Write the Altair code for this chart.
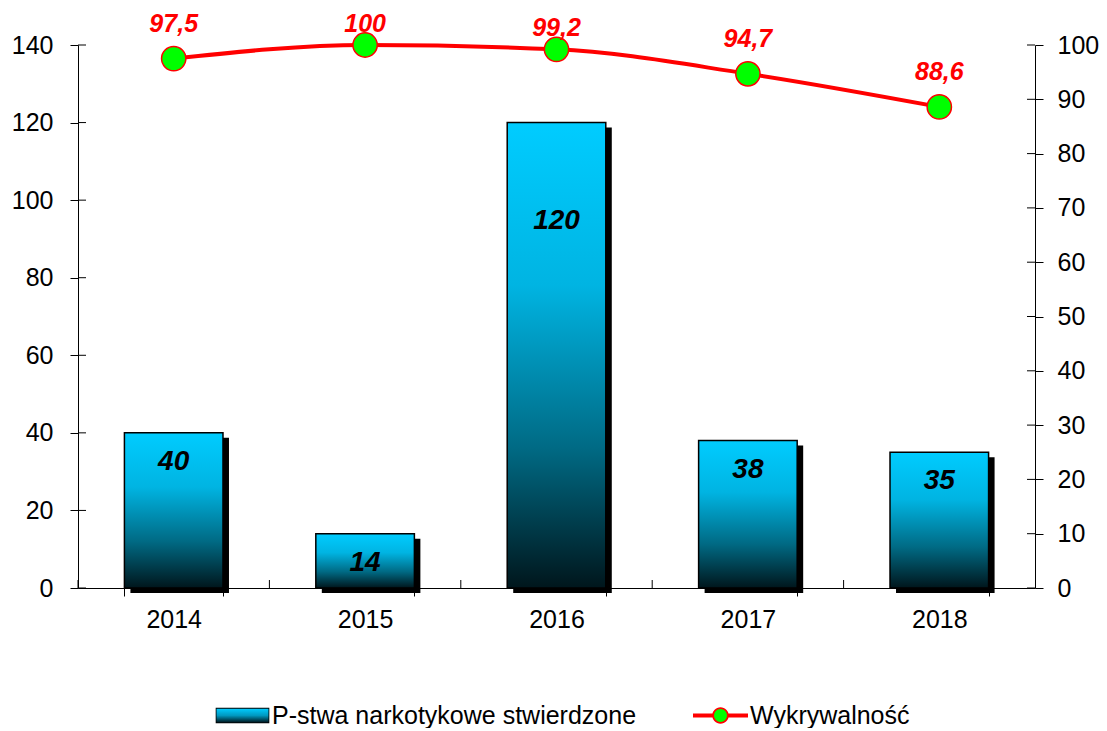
import altair as alt
import pandas as pd

# ---- data ----
years = ["2014", "2015", "2016", "2017", "2018"]
cases = [40, 14, 120, 38, 35]
detection = [97.5, 100, 99.2, 94.7, 88.6]
left_ticks = [0, 20, 40, 60, 80, 100, 120, 140]
right_ticks = [0, 10, 20, 30, 40, 50, 60, 70, 80, 90, 100]
series = ["P-stwa narkotykowe stwierdzone", "Wykrywalność"]
special_label_year = "2016"

df = pd.DataFrame({"year": years, "cases": cases, "det": detection})
df_left_ticks = pd.DataFrame({"cases": left_ticks})
df_right_ticks = pd.DataFrame({"det": right_ticks})

W, H = 957, 543
FONT = "Liberation Sans"
P_IN = 0.485
P_OUT = P_IN / 2
STEP = W / len(years)

bar_gradient = {
    "gradient": "linear",
    "x1": 0, "y1": 0, "x2": 0, "y2": 1,
    "stops": [
        {"offset": 0.0, "color": "#00CCFF"},
        {"offset": 0.35, "color": "#00B4E2"},
        {"offset": 0.7, "color": "#006A84"},
        {"offset": 1.0, "color": "#00161C"},
    ],
}
legend_gradient = {
    "gradient": "linear",
    "x1": 0, "y1": 0, "x2": 0, "y2": 1,
    "stops": [
        {"offset": 0.0, "color": "#00CCFF"},
        {"offset": 0.5, "color": "#0098C0"},
        {"offset": 1.0, "color": "#001820"},
    ],
}

x_scale = alt.Scale(paddingInner=P_IN, paddingOuter=P_OUT)
x_axis = alt.Axis(
    title=None, labelAngle=0, tickBand="extent", tickSize=8, labelPadding=11,
    domainColor="black", tickColor="black", labelColor="black",
    labelFont=FONT, labelFontSize=25, grid=False,
)
xEnc = alt.X("year:N", sort=years, scale=x_scale, axis=x_axis)

yL = alt.Y(
    "cases:Q",
    scale=alt.Scale(domain=[0, 140], nice=False),
    axis=alt.Axis(
        title=None, values=left_ticks, tickSize=8, labelPadding=17, grid=False,
        domainColor="black", tickColor="black", labelColor="black",
        labelFont=FONT, labelFontSize=25, orient="left",
    ),
)
yR = alt.Y(
    "det:Q",
    scale=alt.Scale(domain=[0, 100], nice=False),
    axis=alt.Axis(
        title=None, values=right_ticks, tickSize=8, labelPadding=14, grid=False,
        domainColor="black", tickColor="black", labelColor="black",
        labelFont=FONT, labelFontSize=25, orient="right",
    ),
)

base = alt.Chart(df)

shadow = base.mark_bar(color="black", xOffset=6, x2Offset=6, yOffset=5).encode(x=xEnc, y=yL)
bars = base.mark_bar(fill=bar_gradient, stroke="black", strokeWidth=1.5).encode(x=xEnc, y=yL)

inner_x_ticks = base.mark_rule(color="black", strokeWidth=1, xOffset=-(P_IN * STEP) / 2).encode(
    x=alt.X("year:N", sort=years, scale=x_scale, axis=x_axis, bandPosition=0),
    y=alt.value(H - 8), y2=alt.value(H),
)
inner_left_ticks = alt.Chart(df_left_ticks).mark_rule(color="black", strokeWidth=1).encode(
    y=yL, x=alt.value(0), x2=alt.value(8)
)

bar_text_style = dict(font=FONT, fontSize=28, fontWeight="bold", fontStyle="italic",
                      color="black", baseline="middle", align="center")
bar_labels = base.transform_filter(f"datum.year != '{special_label_year}'").mark_text(
    dy=29, **bar_text_style).encode(x=xEnc, y=yL, text="cases:Q")
bar_label_special = base.transform_filter(f"datum.year == '{special_label_year}'").mark_text(
    dy=98, **bar_text_style).encode(x=xEnc, y=yL, text="cases:Q")

left = alt.layer(shadow, bars, inner_x_ticks, inner_left_ticks, bar_labels, bar_label_special)

line = base.mark_line(color="#FF0000", strokeWidth=4, interpolate="monotone").encode(x=xEnc, y=yR)
points = base.mark_point(shape="circle", filled=True, fill="#00FF00", stroke="#FF0000",
                         strokeWidth=1.5, size=590, opacity=1).encode(x=xEnc, y=yR)

red_text = dict(font=FONT, fontSize=25, fontWeight="bold", fontStyle="italic", color="#FF0000",
                baseline="middle", align="center")
labelled = base.transform_calculate(lbl="replace(toString(datum.det), '.', ',')")
line_labels_high = labelled.transform_filter("datum.det >= 99").mark_text(
    dy=-21, **red_text).encode(x=xEnc, y=yR, text="lbl:N")
line_labels_low = labelled.transform_filter("datum.det < 99").mark_text(
    dy=-35, **red_text).encode(x=xEnc, y=yR, text="lbl:N")
inner_right_ticks = alt.Chart(df_right_ticks).mark_rule(color="black", strokeWidth=1).encode(
    y=yR, x=alt.value(W - 8), x2=alt.value(W)
)

right = alt.layer(inner_right_ticks, line, points, line_labels_high, line_labels_low)

# ---- legend (built from the library's legends; stacked symbols give the composite keys) ----
circle = lambda r: f"M-{r},0A{r},{r} 0 1 1 {r},0A{r},{r} 0 1 1 -{r},0Z"
rect = lambda w, h: f"M-{w},-{h}H{w}V{h}H-{w}Z"
legend_parts = [
    # (label, symbol path, fill, legendX, zindex, label visible)
    (series[0], rect(0.975, 0.28), "black", 137, 1, True),
    (series[0], rect(0.945, 0.25), legend_gradient, 137, 2, False),
    (series[1], rect(1, 0.07) + circle(0.3), "#FF0000", 615, 1, True),
    (series[1], circle(0.235), "#00FF00", 615, 2, False),
]

legend_layers = []
for lab, path, fill, lx, z, show in legend_parts:
    legend_layers.append(
        alt.Chart(pd.DataFrame({"s": [lab]})).mark_point(
            filled=True, fill=fill, strokeWidth=0, opacity=0
        ).encode(
            shape=alt.Shape(
                "s:N",
                scale=alt.Scale(domain=[lab], range=[path]),
                legend=alt.Legend(
                    title=None, orient="none", direction="horizontal",
                    legendX=lx, legendY=643, symbolSize=3025, symbolOpacity=1,
                    symbolStrokeWidth=0, labelFont=FONT, labelFontSize=25,
                    labelColor="black", labelOpacity=1 if show else 0,
                    labelLimit=600, labelOffset=2, padding=0, zindex=z,
                ),
            )
        )
    )

chart = alt.layer(left, right, *legend_layers).resolve_scale(
    y="independent", shape="independent"
).properties(
    width=W, height=H,
    autosize=alt.AutoSizeParams(type="none"),
    padding={"left": 70, "top": 37, "right": 64, "bottom": 140},
).configure_view(stroke=None)

chart.save("out.html", embed_options={"renderer": "svg", "actions": False})
